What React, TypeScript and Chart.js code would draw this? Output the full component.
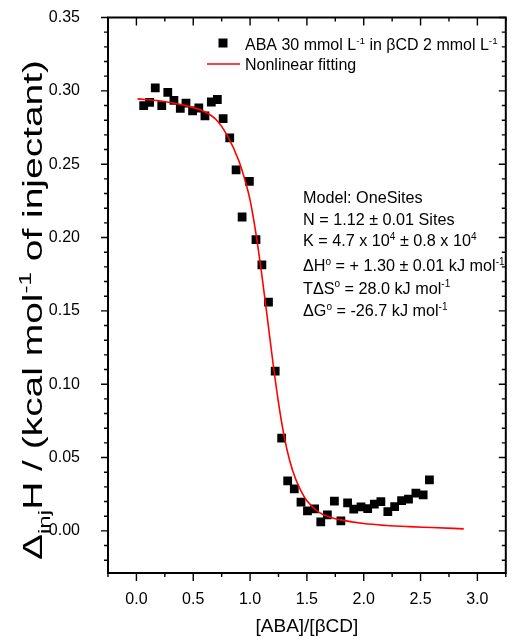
import React, { useEffect, useRef } from "react";
import { Chart, registerables } from "chart.js";

Chart.register(...registerables);

// ---- Data ----
const ratioValues = [
  0.064, 0.116, 0.166, 0.223, 0.276, 0.33, 0.386, 0.436, 0.494, 0.549,
  0.603, 0.659, 0.712, 0.763, 0.821, 0.877, 0.93, 0.994, 1.052, 1.104,
  1.162, 1.221, 1.278, 1.331, 1.389, 1.448, 1.505, 1.568, 1.622, 1.68,
  1.742, 1.799, 1.858, 1.912, 1.976, 2.035, 2.093, 2.151, 2.212, 2.272,
  2.333, 2.394, 2.459, 2.523, 2.578,
];
const heatValues = [
  0.29, 0.2922, 0.302, 0.29, 0.299, 0.2935, 0.288, 0.2917, 0.2863, 0.2883,
  0.2829, 0.2924, 0.2941, 0.281, 0.2679, 0.2462, 0.214, 0.2383, 0.1985, 0.1814,
  0.156, 0.109, 0.0632, 0.0341, 0.0286, 0.0196, 0.0136, 0.015, 0.0061, 0.0109,
  0.0203, 0.0068, 0.0191, 0.0148, 0.0164, 0.0152, 0.0183, 0.02, 0.0132, 0.0166,
  0.0207, 0.0217, 0.0257, 0.0246, 0.0348,
];

const fitRatio = [
  0.01, 0.2, 0.4, 0.6, 0.7, 0.8, 0.9, 0.95, 1.0, 1.05, 1.1, 1.15, 1.2, 1.25,
  1.3, 1.35, 1.4, 1.45, 1.5, 1.6, 1.7, 1.8, 2.0, 2.2, 2.4, 2.6, 2.88,
];
const fitHeat = [
  0.2945, 0.2932, 0.2905, 0.2858, 0.2805, 0.2695, 0.2525, 0.2405, 0.2255,
  0.2035, 0.1765, 0.1465, 0.1155, 0.0875, 0.0645, 0.0475, 0.0355, 0.027,
  0.0205, 0.013, 0.0095, 0.0075, 0.005, 0.0037, 0.0029, 0.0023, 0.0014,
];

const xTickLabels = [0, 0.5, 1.0, 1.5, 2.0, 2.5, 3.0];
const yTickLabels = [0, 0.05, 0.1, 0.15, 0.2, 0.25, 0.3, 0.35];
const xRange = [-0.25, 3.25];
const yRange = [-0.0287, 0.35];

const FONT = "'Liberation Sans', Arial, Helvetica, sans-serif";

type Seg = { t: string; k?: "sup" | "sub" };

function drawRich(ctx: CanvasRenderingContext2D, segs: Seg[], x: number, y: number, size: number, measureOnly = false) {
  let cx = x;
  for (const s of segs) {
    const sz = s.k ? size * 0.62 : size;
    ctx.font = `${sz}px ${FONT}`;
    const dy = s.k === "sup" ? -size * 0.4 : s.k === "sub" ? size * 0.28 : 0;
    if (!measureOnly) ctx.fillText(s.t, cx, y + dy);
    cx += ctx.measureText(s.t).width;
  }
  return cx - x;
}

const legendText1: Seg[] = [
  { t: "ABA 30 mmol L" }, { t: "-1", k: "sup" }, { t: " in \u03B2CD 2 mmol L" }, { t: "-1", k: "sup" },
];
const legendText2: Seg[] = [{ t: "Nonlinear fitting" }];

const noteLines: Seg[][] = [
  [{ t: "Model: OneSites" }],
  [{ t: "N = 1.12 \u00B1 0.01 Sites" }],
  [{ t: "K = 4.7 x 10" }, { t: "4", k: "sup" }, { t: " \u00B1 0.8 x 10" }, { t: "4", k: "sup" }],
  [{ t: "\u0394H" }, { t: "o", k: "sup" }, { t: " = + 1.30 \u00B1 0.01 kJ mol" }, { t: "-1", k: "sup" }],
  [{ t: "T\u0394S" }, { t: "o", k: "sup" }, { t: " = 28.0 kJ mol" }, { t: "-1", k: "sup" }],
  [{ t: "\u0394G" }, { t: "o", k: "sup" }, { t: " = -26.7 kJ mol" }, { t: "-1", k: "sup" }],
];
const noteBaselines = [203, 224.5, 246, 271, 293.5, 316];

const yTitle: Seg[] = [
  { t: "\u0394" }, { t: "inj", k: "sub" }, { t: "H / (kcal mol" }, { t: "-1", k: "sup" }, { t: " of injectant)" },
];

const decorPlugin = {
  id: "decor",
  afterDraw(chart: any) {
    const ctx: CanvasRenderingContext2D = chart.ctx;
    const { left, right, top, bottom } = chart.chartArea;
    const xs = chart.scales.x;
    const ys = chart.scales.y;
    ctx.save();
    ctx.strokeStyle = "#000";
    ctx.fillStyle = "#000";

    // ticks
    ctx.lineWidth = 1.4;
    ctx.beginPath();
    for (let i = -1; i <= 13; i++) {
      const v = i * 0.25;
      const p = xs.getPixelForValue(v);
      const major = i % 2 === 0;
      const len = major ? 8 : 4;
      ctx.moveTo(p, bottom);
      ctx.lineTo(p, bottom + len);
      ctx.moveTo(p, top);
      ctx.lineTo(p, top + len);
    }
    for (let i = -2; i <= 35; i++) {
      const v = i * 0.01;
      const p = ys.getPixelForValue(v);
      const major = i % 5 === 0;
      const len = major ? 7 : 4;
      ctx.moveTo(left, p);
      ctx.lineTo(left - len, p);
      ctx.moveTo(right, p);
      ctx.lineTo(right - len, p);
    }
    ctx.stroke();

    // frame
    ctx.lineWidth = 2;
    ctx.strokeRect(left, top, right - left, bottom - top);

    // legend
    ctx.textAlign = "left";
    ctx.textBaseline = "alphabetic";
    ctx.fillRect(223 - 4.5, 43 - 4.5, 9, 9);
    drawRich(ctx, legendText1, 245, 50, 16);
    ctx.strokeStyle = "#ff0000";
    ctx.lineWidth = 1.5;
    ctx.beginPath();
    ctx.moveTo(207, 64);
    ctx.lineTo(240, 64);
    ctx.stroke();
    drawRich(ctx, legendText2, 245, 70, 16);

    // annotation
    noteLines.forEach((segs, i) => drawRich(ctx, segs, 303, noteBaselines[i], 16.2));

    // x title
    ctx.font = `19px ${FONT}`;
    ctx.textAlign = "center";
    ctx.textBaseline = "middle";
    ctx.fillText("[ABA]/[\u03B2CD]", (left + right) / 2, 627);

    // y title (rotated)
    ctx.textAlign = "left";
    ctx.textBaseline = "alphabetic";
    const size = 27;
    const w = drawRich(ctx, yTitle, 0, 0, size, true);
    const targetLen = 500;
    const sx = targetLen / w;
    ctx.translate(42, 310);
    ctx.rotate(-Math.PI / 2);
    ctx.scale(sx, 1);
    drawRich(ctx, yTitle, -w / 2, 0, size);
    ctx.restore();
  },
};

export default function App() {
  const canvasRef = useRef<HTMLCanvasElement | null>(null);

  useEffect(() => {
    document.body.style.margin = "0";
    const canvas = canvasRef.current;
    if (!canvas) return;
    const points = ratioValues.map((x, i) => ({ x, y: heatValues[i] }));
    const fit = fitRatio.map((x, i) => ({ x, y: fitHeat[i] }));
    const chart = new Chart(canvas, {
      type: "scatter",
      data: {
        datasets: [
          {
            label: "Nonlinear fitting",
            data: fit,
            showLine: true,
            borderColor: "#ff0000",
            borderWidth: 1.6,
            pointRadius: 0,
            pointHoverRadius: 0,
            fill: false,
            cubicInterpolationMode: "monotone",
            order: 0,
          } as any,
          {
            label: "ABA 30 mmol L-1 in βCD 2 mmol L-1",
            data: points,
            pointStyle: "rect",
            pointRadius: 6.2,
            pointBorderWidth: 0,
            backgroundColor: "#000",
            borderColor: "#000",
            order: 1,
          } as any,
        ],
      },
      options: {
        animation: false,
        responsive: false,
        devicePixelRatio: 1,
        layout: { padding: { top: 17.5, right: 3, left: 0, bottom: 0 } },
        plugins: { legend: { display: false }, tooltip: { enabled: false }, title: { display: false } },
        scales: {
          x: {
            type: "linear",
            min: xRange[0],
            max: xRange[1],
            grid: { display: false },
            border: { display: false },
            afterBuildTicks: (scale: any) => {
              scale.ticks = xTickLabels.map((v) => ({ value: v }));
            },
            afterFit: (scale: any) => {
              scale.height = 67;
            },
            ticks: {
              autoSkip: false,
              maxRotation: 0,
              padding: 18,
              color: "#000",
              font: { family: FONT, size: 16, lineHeight: 0.1 },
              callback: (v: any) => Number(v).toFixed(1),
            },
          },
          y: {
            type: "linear",
            min: yRange[0],
            max: yRange[1],
            grid: { display: false },
            border: { display: false },
            afterBuildTicks: (scale: any) => {
              scale.ticks = yTickLabels.map((v) => ({ value: v }));
            },
            afterFit: (scale: any) => {
              scale.width = 108;
              scale.paddingTop = 0;
              scale.paddingBottom = 0;
            },
            ticks: {
              autoSkip: false,
              padding: 20,
              color: "#000",
              font: { family: FONT, size: 16, lineHeight: 0.1 },
              callback: (v: any) => Number(v).toFixed(2),
            },
          },
        },
      },
      plugins: [decorPlugin],
    });
    return () => chart.destroy();
  }, []);

  return (
    <div style={{ width: 512, height: 640 }}>
      <canvas ref={canvasRef} width={512} height={640} style={{ display: "block" }} />
    </div>
  );
}
